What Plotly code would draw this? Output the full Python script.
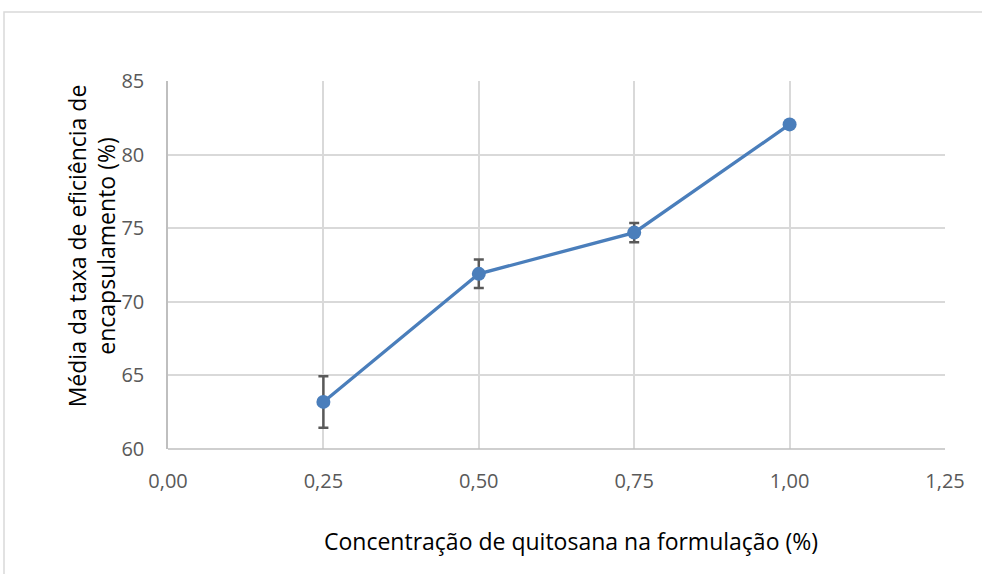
import plotly.graph_objects as go

x_vals = [0.25, 0.50, 0.75, 1.00]
y_vals = [63.2, 71.9, 74.7, 82.05]
y_err = [1.75, 0.97, 0.65, 0.0]

x_ticks = [0, 0.25, 0.5, 0.75, 1.0, 1.25]
x_ticklabels = ["0,00", "0,25", "0,50", "0,75", "1,00", "1,25"]
y_ticks = [60, 65, 70, 75, 80, 85]

x_title = "Concentração de quitosana na formulação (%)"
y_title = "Média da taxa de eficiência de<br>encapsulamento (%)"

font_family = "Open Sans, Carlito, Lato, sans-serif"

fig = go.Figure()
fig.add_trace(go.Scatter(
    x=x_vals, y=y_vals, mode="lines+markers",
    line=dict(color="#4A7EBB", width=3.3),
    marker=dict(color="#4A7EBB", size=14),
    error_y=dict(type="data", array=y_err, visible=True, color="#595959",
                 thickness=2.5, width=5),
    showlegend=False,
))

fig.update_layout(
    width=982, height=574,
    margin=dict(l=168, r=37, t=81, b=125),
    paper_bgcolor="white", plot_bgcolor="white",
    font=dict(family=font_family, size=16, color="#595959"),
    xaxis=dict(range=[0, 1.25], tickvals=x_ticks, ticktext=x_ticklabels,
               showgrid=True, gridcolor="#D9D9D9", gridwidth=1.5,
               showline=False, zeroline=False,
               ticks="outside", ticklen=14, tickcolor="rgba(0,0,0,0)",
               tickfont=dict(size=20, color="#595959")),
    yaxis=dict(range=[60, 85], tickvals=y_ticks,
               showgrid=True, gridcolor="#D9D9D9", gridwidth=1.5,
               showline=True, linecolor="#BFBFBF", linewidth=1.5,
               zeroline=False,
               ticks="outside", ticklen=18, tickcolor="rgba(0,0,0,0)",
               tickfont=dict(size=20, color="#595959")),
)
fig.add_shape(type="line", xref="paper", yref="paper", x0=0, x1=1, y0=0, y1=0,
              line=dict(color="#BFBFBF", width=1.5))

fig.add_annotation(text=x_title, xref="paper", yref="paper",
                   x=0.5187, y=-0.25, xanchor="center", yanchor="middle",
                   showarrow=False, font=dict(size=23, color="#000000", family=font_family))
fig.add_annotation(text=y_title, xref="paper", yref="paper",
                   x=-0.0985, y=0.552, xanchor="center", yanchor="middle", textangle=-90,
                   showarrow=False, font=dict(size=23, color="#000000", family=font_family))

# outer chart frame
fig.add_shape(type="rect", xref="paper", yref="paper",
              x0=(4 - 168) / 777, x1=1.1, y0=1 + (81 - 12) / 368, y1=-0.5,
              line=dict(color="#D9D9D9", width=1.5), fillcolor="rgba(0,0,0,0)",
              layer="below")

fig.write_html("out.html", config={"displayModeBar": False},
               post_script="document.body.style.margin='0';")
